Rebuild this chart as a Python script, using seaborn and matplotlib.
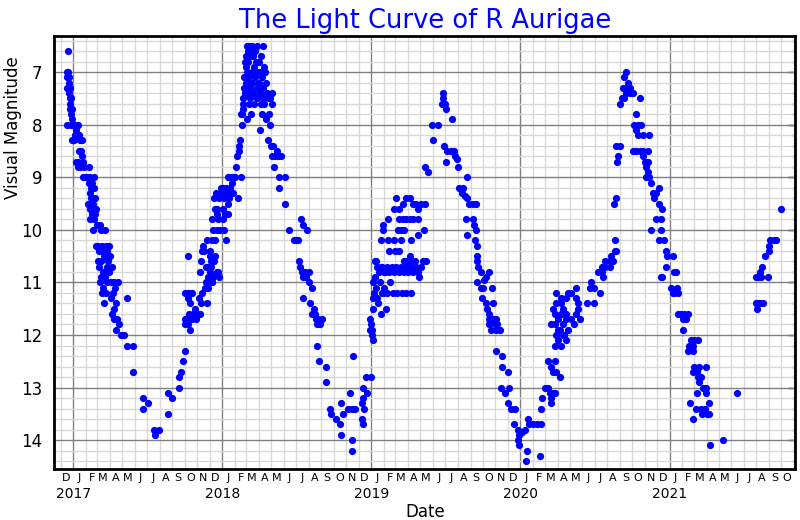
import matplotlib
matplotlib.use("Agg")
import matplotlib.pyplot as plt
import matplotlib.dates as mdates
from matplotlib.ticker import MultipleLocator
import pandas as pd
import seaborn as sns

# ---------------- data ----------------
obs_2016_17 = [
    ("2016-12-20", 6.6), ("2016-12-17", 7.0), ("2016-12-19", 7.0), ("2016-12-18", 7.1), ("2016-12-21", 7.1),
    ("2016-12-16", 7.3), ("2016-12-19", 7.3), ("2016-12-22", 7.2), ("2016-12-23", 7.3), ("2016-12-22", 7.4),
    ("2016-12-24", 7.5), ("2016-12-26", 7.5), ("2016-12-23", 7.6), ("2016-12-25", 7.7), ("2016-12-28", 7.7),
    ("2016-12-26", 7.8), ("2016-12-29", 7.9), ("2016-12-17", 8.0), ("2016-12-27", 8.0), ("2016-12-31", 8.0),
    ("2016-12-28", 8.3),
    ("2017-01-03", 8.0), ("2017-01-06", 8.0), ("2017-01-10", 8.0), ("2017-01-14", 8.0), ("2017-01-05", 8.2),
    ("2017-01-08", 8.1), ("2017-01-12", 8.2), ("2017-01-16", 8.2), ("2017-01-02", 8.3), ("2017-01-18", 8.3),
    ("2017-01-23", 8.3), ("2017-01-15", 8.5), ("2017-01-20", 8.5), ("2017-01-22", 8.6), ("2017-01-09", 8.7),
    ("2017-01-14", 8.7), ("2017-01-25", 8.7), ("2017-01-12", 8.8), ("2017-01-18", 8.8), ("2017-01-28", 8.8),
    ("2017-01-24", 9.0), ("2017-01-30", 9.0),
    ("2017-02-09", 8.8), ("2017-02-04", 9.0), ("2017-02-12", 9.0), ("2017-02-20", 9.0), ("2017-02-08", 9.1),
    ("2017-02-16", 9.1), ("2017-02-13", 9.2), ("2017-02-22", 9.2), ("2017-02-10", 9.3), ("2017-02-14", 9.4),
    ("2017-02-24", 9.4), ("2017-02-06", 9.5), ("2017-02-18", 9.5), ("2017-02-10", 9.6), ("2017-02-26", 9.6),
    ("2017-02-16", 9.7), ("2017-02-23", 9.7), ("2017-02-12", 9.8), ("2017-02-20", 9.8), ("2017-02-28", 9.9),
    ("2017-02-19", 10.0), ("2017-02-25", 10.3),
    ("2017-03-08", 9.9), ("2017-03-10", 10.0), ("2017-03-20", 10.0), ("2017-03-03", 10.3), ("2017-03-12", 10.3),
    ("2017-03-22", 10.3), ("2017-03-30", 10.3), ("2017-03-05", 10.4), ("2017-03-15", 10.4), ("2017-03-25", 10.4),
    ("2017-03-02", 10.6), ("2017-03-09", 10.6), ("2017-03-18", 10.5), ("2017-03-28", 10.6), ("2017-03-06", 10.7),
    ("2017-03-14", 10.8), ("2017-03-24", 10.7), ("2017-03-10", 10.9), ("2017-03-20", 10.9), ("2017-03-30", 10.8),
    ("2017-03-08", 11.0), ("2017-03-16", 11.1), ("2017-03-26", 11.0), ("2017-03-12", 11.2), ("2017-03-22", 11.2),
    ("2017-03-18", 11.4),
    ("2017-04-02", 10.5), ("2017-04-06", 10.7), ("2017-04-04", 11.0), ("2017-04-12", 11.0), ("2017-04-20", 11.0),
    ("2017-04-08", 11.2), ("2017-04-14", 11.1), ("2017-04-03", 11.3), ("2017-04-10", 11.5), ("2017-04-16", 11.4),
    ("2017-04-06", 11.6), ("2017-04-12", 11.7), ("2017-04-18", 11.7), ("2017-04-15", 11.9), ("2017-04-22", 11.8),
    ("2017-04-28", 12.0),
    ("2017-05-05", 12.0), ("2017-05-13", 11.3), ("2017-05-13", 12.2), ("2017-05-28", 12.2), ("2017-05-28", 12.7),
    ("2017-06-21", 13.2), ("2017-06-20", 13.4), ("2017-07-02", 13.3), ("2017-07-18", 13.8), ("2017-07-30", 13.8),
    ("2017-07-20", 13.9),
    ("2017-08-20", 13.5), ("2017-08-20", 13.1), ("2017-08-30", 13.2), ("2017-09-16", 13.0), ("2017-09-18", 12.8),
    ("2017-09-23", 12.7), ("2017-09-28", 12.5),
]

obs_2017_18 = [
    ("2017-10-03", 12.3), ("2017-10-01", 11.8), ("2017-10-03", 11.7), ("2017-10-10", 10.5), ("2017-10-03", 11.2),
    ("2017-10-08", 11.2), ("2017-10-14", 11.2), ("2017-10-20", 11.2), ("2017-10-08", 11.3), ("2017-10-15", 11.4),
    ("2017-10-12", 11.6), ("2017-10-22", 11.6), ("2017-10-06", 11.7), ("2017-10-18", 11.7), ("2017-10-28", 11.7),
    ("2017-10-10", 11.8), ("2017-10-13", 11.9), ("2017-10-26", 11.5),
    ("2017-11-02", 11.6), ("2017-11-08", 11.6), ("2017-11-12", 11.2), ("2017-11-05", 11.3), ("2017-11-10", 11.4),
    ("2017-11-24", 11.4), ("2017-11-20", 11.1), ("2017-11-26", 11.1), ("2017-11-22", 11.0), ("2017-11-07", 10.8),
    ("2017-11-09", 10.6), ("2017-11-12", 10.4), ("2017-11-18", 10.4), ("2017-11-15", 10.3), ("2017-11-25", 10.2),
    ("2017-11-22", 10.7), ("2017-11-28", 10.7), ("2017-11-28", 10.9),
    ("2017-12-05", 10.7), ("2017-12-03", 10.5), ("2017-12-07", 11.0), ("2017-12-10", 10.9), ("2017-12-21", 10.8),
    ("2017-12-23", 10.9), ("2017-12-14", 10.5), ("2017-12-12", 10.6), ("2017-12-18", 10.8), ("2017-12-02", 10.4),
    ("2017-12-06", 10.2), ("2017-12-10", 10.0), ("2017-12-15", 10.2), ("2017-12-20", 10.0), ("2017-12-08", 9.8),
    ("2017-12-14", 9.6), ("2017-12-22", 9.8), ("2017-12-18", 9.7), ("2017-12-12", 9.4), ("2017-12-24", 9.4),
    ("2017-12-16", 9.3), ("2017-12-28", 9.2), ("2017-12-20", 9.6), ("2017-12-26", 10.0), ("2017-12-30", 9.3),
    ("2017-12-04", 10.6), ("2017-12-01", 10.8), ("2017-12-06", 11.0),
    ("2018-01-03", 9.2), ("2018-01-06", 9.4), ("2018-01-10", 9.2), ("2018-01-14", 9.0), ("2018-01-08", 9.7),
    ("2018-01-12", 9.3), ("2018-01-18", 9.4), ("2018-01-22", 9.0), ("2018-01-16", 9.7), ("2018-01-02", 9.8),
    ("2018-01-05", 10.0), ("2018-01-09", 10.2), ("2018-01-20", 9.2), ("2018-01-25", 9.1), ("2018-01-28", 9.3),
    ("2018-01-30", 9.0), ("2018-01-04", 9.6), ("2018-01-15", 9.5),
    ("2018-02-04", 8.8), ("2018-02-07", 8.6), ("2018-02-10", 8.5), ("2018-02-12", 8.4), ("2018-02-14", 8.3),
    ("2018-02-02", 9.0), ("2018-02-08", 9.4), ("2018-02-15", 9.0), ("2018-02-18", 8.0), ("2018-02-17", 7.8),
    ("2018-02-20", 7.7), ("2018-02-19", 7.8), ("2018-02-21", 7.5), ("2018-02-23", 7.3), ("2018-02-24", 7.1),
    ("2018-02-26", 7.4), ("2018-02-27", 7.2), ("2018-02-25", 6.8), ("2018-02-22", 7.6), ("2018-02-28", 6.7),
    ("2018-03-02", 6.5), ("2018-03-08", 6.5), ("2018-03-15", 6.5), ("2018-03-26", 6.5), ("2018-03-04", 6.6),
    ("2018-03-12", 6.6), ("2018-03-22", 6.6), ("2018-03-01", 6.9), ("2018-03-06", 6.8), ("2018-03-10", 6.7),
    ("2018-03-18", 6.7), ("2018-03-24", 6.8), ("2018-03-03", 7.0), ("2018-03-08", 7.1), ("2018-03-14", 7.0),
    ("2018-03-20", 6.9), ("2018-03-28", 7.0), ("2018-03-05", 7.2), ("2018-03-11", 7.3), ("2018-03-16", 7.2),
    ("2018-03-22", 7.1), ("2018-03-30", 7.2), ("2018-03-02", 7.4), ("2018-03-09", 7.5), ("2018-03-18", 7.4),
    ("2018-03-26", 7.5), ("2018-03-07", 7.6), ("2018-03-13", 7.8), ("2018-03-20", 7.6), ("2018-03-28", 7.3),
    ("2018-03-02", 7.9),
    ("2018-04-02", 6.8), ("2018-04-06", 6.7), ("2018-04-10", 6.5), ("2018-04-13", 6.9), ("2018-04-04", 7.0),
    ("2018-04-08", 7.1), ("2018-04-15", 7.0), ("2018-04-01", 7.2), ("2018-04-12", 7.3), ("2018-04-18", 7.2),
    ("2018-04-03", 7.4), ("2018-04-10", 7.5), ("2018-04-20", 7.4), ("2018-04-06", 7.6), ("2018-04-14", 7.6),
    ("2018-04-22", 7.5), ("2018-04-09", 7.8), ("2018-04-25", 7.8), ("2018-04-03", 8.1), ("2018-04-17", 7.9),
    ("2018-04-27", 7.5), ("2018-04-24", 8.3), ("2018-04-29", 8.0),
    ("2018-05-01", 8.4), ("2018-05-06", 8.4), ("2018-05-02", 8.6), ("2018-05-10", 8.6), ("2018-05-18", 8.6),
    ("2018-05-25", 8.6), ("2018-05-08", 8.8), ("2018-05-14", 8.5), ("2018-05-21", 9.0), ("2018-05-21", 9.2),
    ("2018-05-04", 7.6), ("2018-05-03", 7.4),
    ("2018-06-03", 9.0), ("2018-06-03", 9.5), ("2018-06-14", 10.0), ("2018-06-30", 10.2), ("2018-06-26", 10.2),
    ("2018-07-06", 10.2), ("2018-07-07", 10.6), ("2018-07-12", 9.8), ("2018-07-17", 9.9), ("2018-07-28", 10.0),
    ("2018-07-10", 10.7), ("2018-07-15", 10.8), ("2018-07-22", 10.8), ("2018-07-18", 10.9), ("2018-07-18", 11.3),
    ("2018-07-26", 10.9), ("2018-08-01", 10.8), ("2018-08-02", 11.0), ("2018-08-05", 11.4), ("2018-08-10", 11.1),
    ("2018-08-13", 11.5), ("2018-08-08", 11.6), ("2018-08-15", 11.6), ("2018-08-18", 11.7), ("2018-08-24", 11.7),
    ("2018-09-03", 11.7), ("2018-08-20", 11.8), ("2018-08-28", 11.8), ("2018-08-22", 12.2), ("2018-08-26", 12.5),
    ("2018-09-13", 12.6), ("2018-09-11", 12.9), ("2018-09-22", 13.4), ("2018-09-24", 13.5), ("2018-10-07", 13.6),
    ("2018-10-17", 13.7), ("2018-10-18", 13.3), ("2018-10-19", 13.9), ("2018-10-24", 13.5), ("2018-11-04", 13.4),
    ("2018-11-14", 13.4), ("2018-11-22", 13.4), ("2018-11-11", 13.1), ("2018-11-17", 12.4), ("2018-11-15", 14.0),
    ("2018-11-15", 14.2), ("2018-12-08", 13.3), ("2018-12-10", 13.6), ("2018-12-11", 13.7), ("2018-12-12", 13.2),
    ("2018-12-11", 13.0), ("2018-12-18", 12.8), ("2018-12-31", 12.8), ("2018-12-22", 13.1), ("2018-12-14", 13.4),
]

obs_2019 = [
    ("2018-12-28", 11.7), ("2018-12-30", 11.9), ("2019-01-01", 11.8), ("2019-01-03", 12.0), ("2019-01-05", 12.1),
    ("2019-01-02", 11.9), ("2019-01-04", 11.3), ("2019-01-06", 11.5), ("2019-01-07", 11.2), ("2019-01-06", 11.0),
    ("2019-01-09", 10.6), ("2019-01-10", 10.9), ("2019-01-12", 11.1), ("2019-01-14", 11.3), ("2019-01-16", 10.7),
    ("2019-01-18", 11.4), ("2019-01-20", 10.8), ("2019-01-22", 11.0), ("2019-01-25", 11.6), ("2019-01-27", 10.7),
    ("2019-01-29", 11.2), ("2019-01-31", 10.8),
    ("2019-03-03", 9.4), ("2019-03-28", 9.4), ("2019-04-05", 9.4), ("2019-03-19", 9.5), ("2019-04-13", 9.5),
    ("2019-04-21", 9.5), ("2019-05-03", 9.5), ("2019-05-12", 9.5), ("2019-02-26", 9.6), ("2019-03-11", 9.6),
    ("2019-04-25", 9.6), ("2019-03-11", 9.8), ("2019-03-19", 9.8), ("2019-03-28", 9.8), ("2019-04-05", 9.8),
    ("2019-04-13", 9.8), ("2019-04-25", 9.8), ("2019-02-12", 9.8), ("2019-01-29", 10.0), ("2019-03-07", 10.0),
    ("2019-03-15", 10.0), ("2019-03-23", 10.0), ("2019-05-11", 10.0), ("2019-01-29", 9.9), ("2019-01-25", 10.2),
    ("2019-02-10", 10.2), ("2019-02-26", 10.2), ("2019-03-15", 10.2), ("2019-04-09", 10.2), ("2019-04-25", 10.1),
    ("2019-02-14", 10.4), ("2019-03-01", 10.4), ("2019-03-11", 10.4), ("2019-04-05", 10.5), ("2019-01-13", 10.6),
    ("2019-03-23", 10.6), ("2019-04-01", 10.6), ("2019-04-09", 10.6),
    ("2019-01-25", 10.7), ("2019-02-03", 10.8), ("2019-02-08", 10.7), ("2019-02-14", 10.8), ("2019-02-20", 10.7),
    ("2019-02-26", 10.8), ("2019-03-03", 10.7), ("2019-03-09", 10.8), ("2019-03-15", 10.7), ("2019-03-21", 10.8),
    ("2019-03-27", 10.7), ("2019-04-02", 10.8), ("2019-04-08", 10.7), ("2019-04-14", 10.8), ("2019-04-20", 10.7),
    ("2019-04-26", 10.8), ("2019-05-02", 10.7), ("2019-05-08", 10.6), ("2019-05-14", 10.6), ("2019-03-25", 10.6),
    ("2019-04-28", 10.9), ("2019-04-17", 10.6),
    ("2019-02-05", 11.5), ("2019-02-08", 11.2), ("2019-02-23", 11.2), ("2019-03-05", 11.2), ("2019-03-17", 11.2),
    ("2019-03-27", 11.2), ("2019-04-07", 11.2), ("2019-02-01", 11.1), ("2019-02-15", 11.0), ("2019-01-28", 11.2),
    ("2019-05-13", 8.8), ("2019-05-21", 8.9), ("2019-05-29", 8.0), ("2019-06-02", 8.3), ("2019-06-14", 8.0),
    ("2019-06-26", 7.4), ("2019-06-26", 7.5), ("2019-06-22", 7.6), ("2019-06-30", 7.6), ("2019-07-02", 7.7),
    ("2019-07-18", 7.9), ("2019-06-28", 8.4), ("2019-07-06", 8.5), ("2019-07-14", 8.5), ("2019-07-22", 8.5),
    ("2019-07-26", 8.6), ("2019-07-02", 8.7), ("2019-08-02", 8.8), ("2019-07-30", 8.65), ("2019-08-24", 9.0),
    ("2019-08-04", 9.2), ("2019-08-10", 9.3), ("2019-08-14", 9.2), ("2019-08-18", 9.35), ("2019-08-24", 9.4),
    ("2019-08-28", 9.5), ("2019-09-06", 9.5), ("2019-09-14", 9.5), ("2019-08-20", 9.8), ("2019-09-06", 9.8),
    ("2019-09-10", 9.9), ("2019-09-14", 10.0), ("2019-08-24", 10.1),
    ("2019-09-12", 10.2), ("2019-09-16", 10.3), ("2019-09-17", 10.5), ("2019-09-18", 10.6), ("2019-09-20", 10.7),
    ("2019-09-26", 10.8), ("2019-09-18", 11.0), ("2019-09-26", 11.1), ("2019-10-02", 11.1), ("2019-09-30", 11.3),
    ("2019-10-08", 11.4), ("2019-10-12", 11.5), ("2019-10-17", 11.6), ("2019-10-17", 11.7), ("2019-10-25", 11.7),
    ("2019-11-02", 11.7), ("2019-10-17", 11.8), ("2019-10-30", 11.8), ("2019-11-06", 11.8), ("2019-10-20", 11.9),
    ("2019-11-02", 11.9), ("2019-11-12", 11.9), ("2019-10-17", 10.8), ("2019-10-10", 10.9), ("2019-10-23", 11.1),
    ("2019-10-25", 11.4), ("2019-10-05", 10.95),
    ("2019-11-02", 12.3), ("2019-11-17", 12.4), ("2019-11-17", 12.6), ("2019-12-01", 12.7), ("2019-11-14", 13.0),
    ("2019-12-03", 13.0), ("2019-11-24", 13.1), ("2019-12-01", 13.3), ("2019-12-09", 13.4), ("2019-12-20", 13.4),
    ("2019-12-17", 13.7), ("2019-12-25", 13.8), ("2019-12-29", 13.9), ("2019-12-25", 14.0), ("2019-12-28", 14.1),
    ("2020-01-04", 13.85),
]

obs_2020 = [
    ("2020-01-14", 14.4), ("2020-01-18", 14.2), ("2020-01-12", 13.8), ("2020-01-19", 13.6), ("2020-01-22", 13.7),
    ("2020-02-01", 13.7), ("2020-02-10", 13.7), ("2020-02-20", 13.7), ("2020-02-17", 14.3), ("2020-02-21", 13.4),
    ("2020-02-23", 13.2), ("2020-03-01", 13.0),
    ("2020-03-09", 12.5), ("2020-03-25", 12.5), ("2020-03-17", 12.6), ("2020-03-21", 12.7), ("2020-03-29", 12.7),
    ("2020-04-08", 12.8), ("2020-03-09", 13.0), ("2020-03-13", 13.1), ("2020-03-21", 13.1), ("2020-03-27", 13.1),
    ("2020-03-17", 13.2), ("2020-03-17", 13.3),
    ("2020-03-25", 12.2), ("2020-04-02", 12.1), ("2020-04-10", 12.2), ("2020-04-22", 12.1), ("2020-03-29", 12.0),
    ("2020-04-06", 11.9), ("2020-04-18", 12.0), ("2020-04-26", 11.9), ("2020-03-17", 11.8), ("2020-03-25", 11.8),
    ("2020-04-02", 11.7), ("2020-04-14", 11.8), ("2020-04-22", 11.7), ("2020-05-05", 11.7), ("2020-05-12", 11.8),
    ("2020-05-25", 11.7), ("2020-03-25", 11.6), ("2020-04-10", 11.6), ("2020-04-22", 11.6), ("2020-05-20", 11.5),
    ("2020-05-17", 11.6), ("2020-03-21", 11.5), ("2020-04-10", 11.4), ("2020-04-22", 11.3), ("2020-05-17", 11.3),
    ("2020-05-20", 11.4), ("2020-03-29", 11.2), ("2020-04-10", 11.3), ("2020-04-26", 11.2), ("2020-05-05", 11.2),
    ("2020-05-17", 11.1), ("2020-04-14", 11.5), ("2020-04-02", 11.9), ("2020-04-14", 12.0), ("2020-03-29", 11.4),
    ("2020-04-18", 11.6),
    ("2020-06-12", 11.4), ("2020-06-29", 11.4), ("2020-06-19", 11.1), ("2020-06-23", 11.0), ("2020-06-29", 11.1),
    ("2020-07-13", 11.2), ("2020-07-09", 10.8), ("2020-07-18", 10.8), ("2020-07-22", 10.9), ("2020-07-18", 10.7),
    ("2020-07-26", 10.7), ("2020-08-07", 10.7), ("2020-07-26", 10.6), ("2020-08-07", 10.6), ("2020-08-15", 10.6),
    ("2020-08-11", 10.5), ("2020-08-23", 10.4),
    ("2020-08-19", 10.2), ("2020-08-19", 10.4), ("2020-08-17", 9.5), ("2020-08-21", 9.4), ("2020-08-25", 8.7),
    ("2020-08-27", 8.6), ("2020-08-23", 8.4), ("2020-09-02", 8.4),
    ("2020-09-16", 7.0), ("2020-09-12", 7.1), ("2020-09-20", 7.2), ("2020-09-08", 7.3), ("2020-09-18", 7.3),
    ("2020-09-25", 7.3), ("2020-09-16", 7.4), ("2020-09-25", 7.4), ("2020-10-03", 7.4), ("2020-09-06", 7.5),
    ("2020-09-12", 7.5), ("2020-10-19", 7.5), ("2020-09-02", 7.6), ("2020-10-09", 7.8), ("2020-10-05", 8.0),
    ("2020-10-15", 8.0), ("2020-10-23", 8.0), ("2020-10-11", 8.1), ("2020-10-15", 8.2), ("2020-10-27", 8.2),
    ("2020-11-10", 8.2), ("2020-10-03", 8.5), ("2020-10-11", 8.5), ("2020-10-19", 8.5), ("2020-10-27", 8.5),
    ("2020-11-08", 8.5), ("2020-10-27", 8.6), ("2020-11-02", 8.7), ("2020-11-08", 8.7), ("2020-11-04", 8.8),
    ("2020-11-08", 8.9), ("2020-11-12", 9.0), ("2020-11-04", 9.0), ("2020-11-16", 9.1), ("2020-12-06", 9.2),
    ("2020-11-20", 9.3), ("2020-11-24", 9.4), ("2020-11-28", 9.3), ("2020-12-06", 9.5), ("2020-12-14", 9.6),
    ("2020-11-28", 9.8), ("2020-12-10", 9.8), ("2020-11-16", 10.0), ("2020-12-10", 10.0), ("2020-12-06", 10.2),
    ("2020-12-18", 10.2), ("2020-12-22", 10.4), ("2020-12-24", 10.5), ("2021-01-08", 10.5), ("2020-12-22", 10.7),
    ("2021-01-12", 10.8), ("2021-01-16", 10.8),
]

obs_2021 = [
    ("2020-12-10", 10.9), ("2020-12-14", 10.9), ("2021-01-04", 11.1), ("2021-01-08", 11.2), ("2021-01-12", 11.2),
    ("2021-01-18", 11.1), ("2021-01-20", 11.2), ("2021-01-21", 11.6), ("2021-01-28", 11.6), ("2021-02-05", 11.6),
    ("2021-02-15", 11.6), ("2021-02-02", 11.7), ("2021-02-10", 11.7), ("2021-02-02", 11.9),
    ("2021-02-22", 12.1), ("2021-03-02", 12.1), ("2021-03-10", 12.1), ("2021-02-18", 12.2), ("2021-02-26", 12.2),
    ("2021-02-14", 12.3), ("2021-02-26", 12.3), ("2021-03-02", 12.6), ("2021-03-14", 12.6), ("2021-03-31", 12.6),
    ("2021-02-26", 12.7), ("2021-03-08", 12.7), ("2021-03-10", 12.8), ("2021-03-18", 12.8), ("2021-03-13", 12.9),
    ("2021-03-23", 13.0), ("2021-03-31", 13.0), ("2021-03-08", 13.1), ("2021-03-31", 13.1), ("2021-06-15", 13.1),
    ("2021-02-20", 13.3), ("2021-04-06", 13.3), ("2021-03-06", 13.4), ("2021-03-18", 13.4), ("2021-03-27", 13.4),
    ("2021-04-02", 13.5), ("2021-04-08", 13.5), ("2021-02-26", 13.6), ("2021-03-20", 13.5), ("2021-05-12", 14.0),
    ("2021-04-10", 14.1),
    ("2021-08-01", 11.4), ("2021-08-05", 11.4), ("2021-08-10", 11.4), ("2021-08-17", 11.4), ("2021-08-03", 11.5),
    ("2021-08-01", 10.9), ("2021-08-06", 10.9), ("2021-08-13", 10.9), ("2021-08-30", 10.9), ("2021-08-09", 10.8),
    ("2021-08-15", 10.7), ("2021-08-21", 10.5), ("2021-09-02", 10.4), ("2021-09-02", 10.3), ("2021-09-04", 10.2),
    ("2021-09-12", 10.2), ("2021-09-18", 10.2), ("2021-10-01", 9.6),
]

title_text = "The Light Curve of R Aurigae"
x_label = "Date"
y_label = "Visual Magnitude"
month_letters = ["J", "F", "M", "A", "M", "J", "J", "A", "S", "O", "N", "D"]
x_start, x_end = "2016-11-16", "2021-11-04"
y_bright, y_faint = 6.32, 14.54

# ---------------- figure ----------------
sns.set_style("white")
plt.rcParams["font.family"] = ["DejaVu Sans"]
plt.rcParams.update({"text.color": "black", "axes.labelcolor": "black",
                     "xtick.color": "black", "ytick.color": "black"})

rows = obs_2016_17 + obs_2017_18 + obs_2019 + obs_2020 + obs_2021
df = pd.DataFrame(rows, columns=[x_label, y_label])
df[x_label] = pd.to_datetime(df[x_label])

fig = plt.figure(figsize=(8, 5.2), dpi=100)
ax = fig.add_axes([0.068, 0.099, 0.926, 0.831])

sns.scatterplot(data=df, x=x_label, y=y_label, ax=ax, s=27, color="#0000ff",
                linewidth=0, zorder=3)

ax.set_xlim(pd.Timestamp(x_start), pd.Timestamp(x_end))
ax.set_ylim(y_faint, y_bright)

# x ticks: years (major), months (minor)
ax.xaxis.set_major_locator(mdates.YearLocator())
ax.xaxis.set_major_formatter(mdates.DateFormatter("%Y"))
ax.xaxis.set_minor_locator(mdates.MonthLocator())
ax.tick_params(axis="x", which="major", direction="inout", length=10, width=2,
               labelsize=10, pad=8, color="black", labelcolor="black")
ax.tick_params(axis="x", which="minor", direction="out", length=3, width=1, color="black")

# month letters centred mid-month
mids = pd.date_range("2016-12-01", "2021-10-01", freq="MS") + pd.Timedelta(days=14)
sec = ax.secondary_xaxis("bottom")
sec.set_xticks(mdates.date2num(mids.to_pydatetime()))
sec.set_xticklabels([month_letters[d.month - 1] for d in mids])
sec.tick_params(length=0, labelsize=8, pad=3, labelcolor="black")
sec.spines["bottom"].set_visible(False)

# y ticks
ax.yaxis.set_major_locator(MultipleLocator(1))
ax.yaxis.set_minor_locator(MultipleLocator(0.2))
ax.tick_params(axis="y", which="major", direction="out", length=5.5, width=1.5,
               labelsize=12, pad=3, color="black", labelcolor="black")
ax.tick_params(axis="y", which="minor", direction="out", length=2.5, width=1, color="black")
secy = ax.secondary_yaxis("right")
secy.yaxis.set_major_locator(MultipleLocator(1))
secy.yaxis.set_minor_locator(MultipleLocator(0.2))
secy.tick_params(which="both", direction="in", labelright=False, color="black")
secy.tick_params(which="major", length=5, width=1)
secy.tick_params(which="minor", length=2.5, width=1)
secy.spines["right"].set_visible(False)

# grid
ax.set_axisbelow(True)
ax.grid(which="major", color="#808080", linewidth=1.0)
ax.grid(which="minor", color="#d8d8d8", linewidth=1.0)

for side in ["left", "bottom", "right", "top"]:
    ax.spines[side].set_visible(True)
    ax.spines[side].set_color("black")
    ax.spines[side].set_linewidth(2)

ax.set_xlabel(x_label, fontsize=12, labelpad=2, color="black")
ax.set_ylabel(y_label, fontsize=12, color="black")
ax.yaxis.set_label_coords(-0.044, 0.788)
ax.set_title(title_text, color="#0000ff", fontsize=18.5, pad=6)

fig.savefig("out.png", dpi=100)
